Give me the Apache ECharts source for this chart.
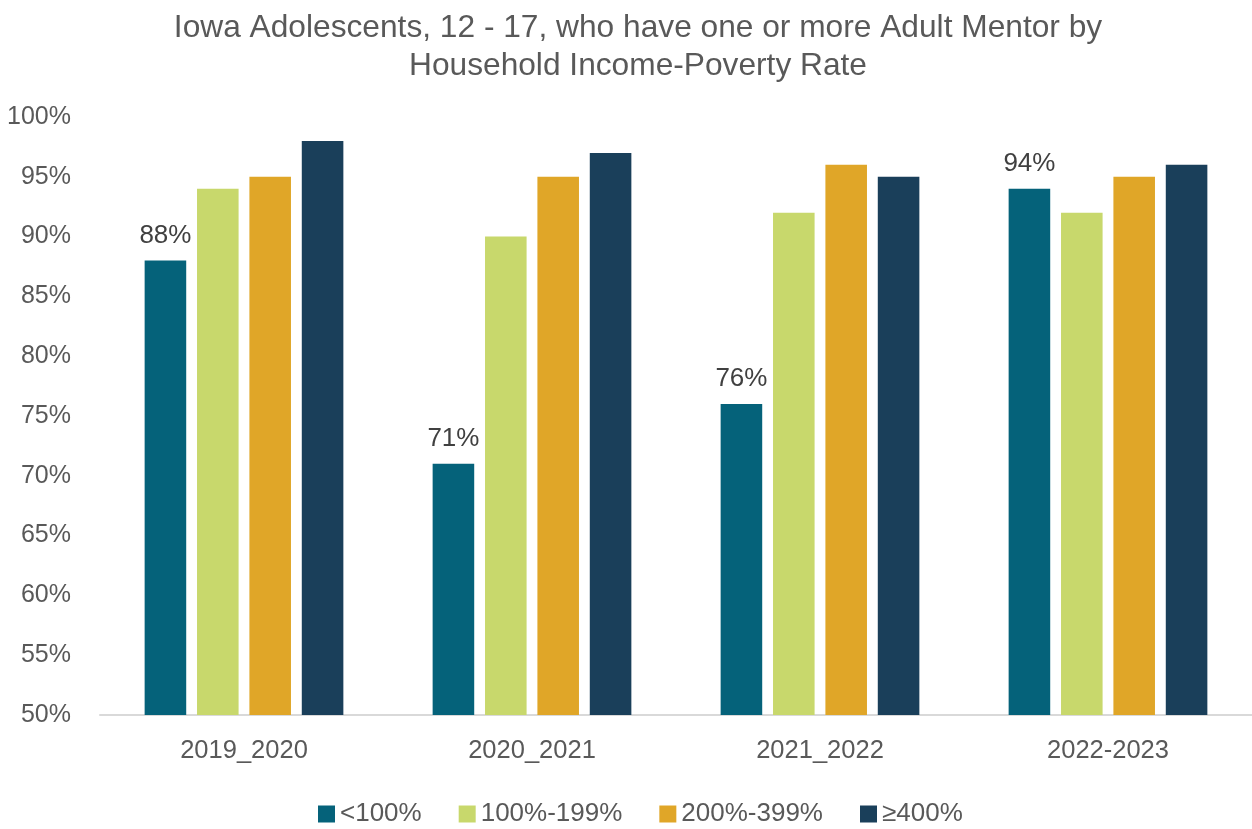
<!DOCTYPE html>
<html><head><meta charset="utf-8">
<script src="https://cdn.jsdelivr.net/npm/echarts@6/dist/echarts.min.js"></script>
<style>html,body{margin:0;padding:0;background:#fff}#c{width:1252px;height:829px}</style>
</head><body><div id="c"></div>
<script>
const categories = ['2019_2020', '2020_2021', '2021_2022', '2022-2023'];
const seriesNames = ['<100%', '100%-199%', '200%-399%', '≥400%'];
const s1 = [88, 71, 76, 94];
const s2 = [94, 90, 92, 92];
const s3 = [95, 95, 96, 95];
const s4 = [98, 97, 95, 96];
const colors = ['#05627A', '#C8D86C', '#E0A628', '#1A3F5A'];
const txt = '#595959';
const font = '"Liberation Sans", Arial, sans-serif';

const chart = echarts.init(document.getElementById('c'));
const data = [s1, s2, s3, s4];
chart.setOption({
  animation: false,
  color: colors,
  title: {
    text: 'Iowa Adolescents, 12 - 17, who have one or more Adult Mentor by\nHousehold Income-Poverty Rate',
    left: 633, top: 4, textAlign: 'center',
    textStyle: {color: txt, fontSize: 31.7, fontWeight: 'normal', fontFamily: font, lineHeight: 38}
  },
  legend: {
    top: 796, left: 313, itemWidth: 17, itemHeight: 17, itemGap: 37,
    icon: 'rect',
    textStyle: {color: txt, fontSize: 26, fontFamily: font}
  },
  grid: {left: 100, right: 0, top: 117, bottom: 114, outerBoundsMode: 'none'},
  xAxis: {
    type: 'category', data: categories,
    axisLine: {lineStyle: {color: '#D9D9D9', width: 2}},
    axisTick: {show: false},
    axisLabel: {color: txt, fontSize: 25.5, fontFamily: font, margin: 23}
  },
  yAxis: {
    type: 'value', min: 50, max: 100, interval: 5,
    splitLine: {show: false},
    axisLine: {show: false}, axisTick: {show: false},
    axisLabel: {color: txt, fontSize: 25, fontFamily: font, formatter: '{value}%', margin: 29}
  },
  series: data.map((d, i) => ({
    name: seriesNames[i], type: 'bar', data: d,
    barGap: '26%', barCategoryGap: '31%',
    label: i === 0 ? {show: true, position: 'top', distance: 12, formatter: '{c}%', color: '#404040', fontSize: 26, fontFamily: font} : {show: false}
  }))
});
</script></body></html>
